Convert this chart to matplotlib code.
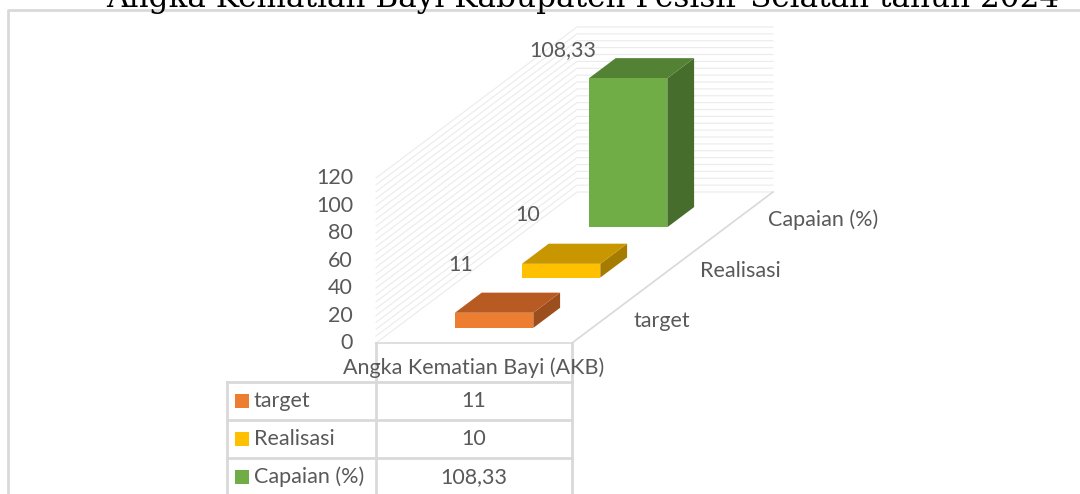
#!/usr/bin/env python3
# Angka Kematian Bayi - Excel style 3D column chart with data table
import numpy as np
import matplotlib
matplotlib.use('Agg')
import matplotlib.pyplot as plt
from matplotlib.patches import Polygon

# Data
title = 'Angka Kematian Bayi Kabupaten Pesisir Selatan tahun 2024'
category = 'Angka Kematian Bayi (AKB)'
series_names = ['target', 'Realisasi', 'Capaian (%)']
series_values = [11, 10, 108.33]
value_labels = ['11', '10', '108,33']
y_ticks = [0, 20, 40, 60, 80, 100, 120]

# Style
front_colors = ['#ED7D31', '#FFC000', '#70AD47']
top_colors = ['#B75B22', '#C89700', '#548235']
side_colors = ['#9D4E1D', '#A57C00', '#476D2C']
text_color = '#595959'
grid_color = '#EBEBEB'
line_color = '#D9D9D9'
font = 'Lato'
fs = 15.5

# Projection of the 3D box to pixel coordinates (oblique view)
origin = np.array([376.0, 343.0])   # front-left corner of floor
cat_width = 196.0                   # width of the category along x
depth_vec = np.array([201.0, -151.0])
y_max = 120.0
px_per_unit = 165.0 / y_max


def proj(x, v, d):
    """
    Map (category fraction, value, depth fraction) to pixel coords
    """
    p = origin + np.array([x * cat_width, -v * px_per_unit]) + d * depth_vec
    return (p[0], p[1])


def draw_bar(ax, i, value):
    """
    Draw one 3D bar for series i
    """
    n = len(series_values)
    d0 = (i + 0.5) / n - 0.2 / n
    d1 = (i + 0.5) / n + 0.2 / n
    x0, x1 = 0.3, 0.7
    front = [proj(x0, 0, d0), proj(x1, 0, d0), proj(x1, value, d0), proj(x0, value, d0)]
    top = [proj(x0, value, d0), proj(x1, value, d0), proj(x1, value, d1), proj(x0, value, d1)]
    side = [proj(x1, 0, d0), proj(x1, 0, d1), proj(x1, value, d1), proj(x1, value, d0)]
    ax.add_patch(Polygon(side, closed=True, facecolor=side_colors[i], edgecolor='none', zorder=3))
    ax.add_patch(Polygon(top, closed=True, facecolor=top_colors[i], edgecolor='none', zorder=3))
    ax.add_patch(Polygon(front, closed=True, facecolor=front_colors[i], edgecolor='none', zorder=4))


fig = plt.figure(figsize=(10.8, 4.94), dpi=100)
ax = fig.add_axes([0, 0, 1, 1])
ax.set_xlim(0, 1080)
ax.set_ylim(494, 0)
ax.axis('off')

# Title (cut off by the top of the picture, as in the source)
ax.text(583, 7, title, family='DejaVu Serif', fontsize=22.4, color='black',
        ha='center', va='baseline')

# Chart border
ax.plot([8, 8, 1085], [500, 10, 10], color=line_color, lw=2, solid_capstyle='butt')

# Wall gridlines
for v in np.arange(0, y_max + 1, 5):
    a = proj(0, v, 0)
    b = proj(0, v, 1)
    c = proj(1, v, 1)
    ax.plot([a[0], b[0], c[0]], [a[1], b[1], c[1]], color=grid_color, lw=0.8, zorder=1)

# Floor outline
for pts in [[proj(0, 0, 0), proj(1, 0, 0)], [proj(1, 0, 0), proj(1, 0, 1)]]:
    ax.plot([p[0] for p in pts], [p[1] for p in pts], color=line_color, lw=1.2, zorder=2)

# Value axis labels
for v in y_ticks:
    px, py = proj(0, v, 0)
    ax.text(px - 23, py, str(v), family=font, fontsize=fs, color=text_color,
            ha='right', va='center')

# Bars, back to front
for i in reversed(range(len(series_values))):
    draw_bar(ax, i, series_values[i])

# Data labels
label_offsets = [(-33, -48), (-33, -49), (-65, -28)]
for i, v in enumerate(series_values):
    n = len(series_values)
    px, py = proj(0.5, v, (i + 0.5) / n - 0.2 / n)
    ax.text(px + label_offsets[i][0], py + label_offsets[i][1], value_labels[i],
            family=font, fontsize=fs, color=text_color, ha='center', va='center', zorder=5)

# Series (depth) axis labels
for i, name in enumerate(series_names):
    px, py = proj(1, 0, (i + 0.5) / len(series_names))
    ax.text(px + 28, py + 3, name, family=font, fontsize=fs, color=text_color,
            ha='left', va='center')

# Category label
cx, cy = proj(0.5, 0, 0)
ax.text(cx, cy + 25, category, family=font, fontsize=fs, color=text_color,
        ha='center', va='center')

# Data table
left_x, mid_x, right_x = 227, proj(0, 0, 0)[0], proj(1, 0, 0)[0]
top_y = proj(0, 0, 0)[1]
row_h = 38
row_top = top_y + 39
ax.plot([mid_x, mid_x], [top_y, 500], color=line_color, lw=2)
ax.plot([right_x, right_x], [top_y, 500], color=line_color, lw=2)
ax.plot([left_x, left_x], [row_top, 500], color=line_color, lw=2)
for r in range(len(series_names)):
    yy = row_top + r * row_h
    ax.plot([left_x, right_x], [yy, yy], color=line_color, lw=2)
    yc = yy + row_h / 2
    ax.add_patch(plt.Rectangle((left_x + 8, yc - 7), 14, 14, facecolor=front_colors[r],
                               edgecolor='none'))
    ax.text(left_x + 27, yc, series_names[r], family=font, fontsize=fs,
            color=text_color, ha='left', va='center')
    ax.text((mid_x + right_x) / 2, yc, value_labels[r], family=font, fontsize=fs,
            color=text_color, ha='center', va='center')

fig.savefig('out.png', dpi=100)
